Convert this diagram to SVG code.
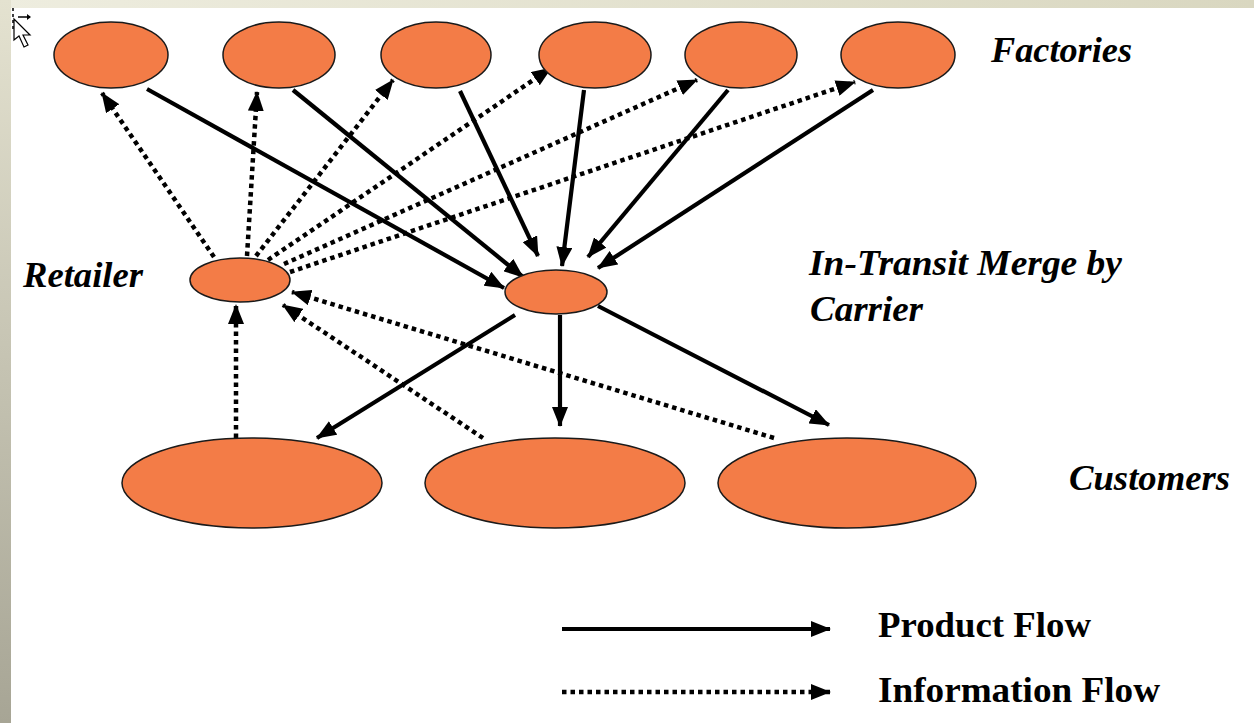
<svg xmlns="http://www.w3.org/2000/svg" width="1254" height="723" viewBox="0 0 1254 723">
<defs>
<linearGradient id="gLeft" x1="0" y1="0" x2="0" y2="1">
<stop offset="0" stop-color="#E4E2D0"/>
<stop offset="1" stop-color="#A7A595"/>
</linearGradient>
<linearGradient id="gTop" x1="0" y1="0" x2="1" y2="0">
<stop offset="0" stop-color="#EEEDDF"/>
<stop offset="1" stop-color="#D9D7C0"/>
</linearGradient>
<marker id="arr" markerUnits="userSpaceOnUse" markerWidth="20" markerHeight="16" refX="19" refY="8" orient="auto">
<path d="M0,0 L20,8 L0,16 Z" fill="#000"/>
</marker>
</defs>
<style>
.node{fill:#F37C47;stroke:#1a1a1a;stroke-width:1.5}
.prod{stroke:#000;stroke-width:4.2;fill:none;marker-end:url(#arr)}
.info{stroke:#000;stroke-width:4.5;stroke-dasharray:4.5 4;fill:none;marker-end:url(#arr)}
.lbl{font-family:"Liberation Serif","Times New Roman",serif;font-size:36px;font-weight:bold;font-style:italic;fill:#000}
.leg{font-family:"Liberation Serif","Times New Roman",serif;font-size:36px;font-weight:bold;fill:#000}
</style>
<rect x="0" y="0" width="1254" height="723" fill="#FFFFFF"/>
<rect x="0" y="0" width="1254" height="8" fill="url(#gTop)"/>
<rect x="0" y="0" width="11" height="723" fill="url(#gLeft)"/>
<g id="cursor">
<line x1="13" y1="8" x2="13" y2="30" stroke="#000" stroke-width="1.5" stroke-dasharray="3 3"/>
<line x1="18" y1="17" x2="30" y2="17" stroke="#000" stroke-width="1.5"/>
<path d="M27,14 L31,17 L27,20 Z" fill="#000"/>
<path d="M14,19 L14,40 L19,36 L24,47 L28,45 L23,35 L30,35 Z" fill="#fff" stroke="#000" stroke-width="1.2"/>
</g>
<g id="connectors">
<line class="prod" x1="147" y1="89" x2="504" y2="288"/>
<line class="prod" x1="293" y1="90" x2="523" y2="277"/>
<line class="prod" x1="460" y1="91" x2="538" y2="256"/>
<line class="prod" x1="584" y1="90" x2="562" y2="266"/>
<line class="prod" x1="728" y1="90" x2="588" y2="257"/>
<line class="prod" x1="873" y1="90" x2="598" y2="268"/>
<line class="prod" x1="515" y1="315" x2="317" y2="438"/>
<line class="prod" x1="560" y1="315" x2="560" y2="426"/>
<line class="prod" x1="598" y1="306" x2="829" y2="425"/>
<line class="info" x1="214" y1="257" x2="102" y2="93"/>
<line class="info" x1="247" y1="256" x2="257" y2="92"/>
<line class="info" x1="256" y1="256" x2="393" y2="80"/>
<line class="info" x1="268" y1="260" x2="551" y2="68"/>
<line class="info" x1="284" y1="264" x2="697" y2="80"/>
<line class="info" x1="290" y1="272" x2="855" y2="82"/>
<line class="info" x1="236" y1="438" x2="236" y2="305"/>
<line class="info" x1="483" y1="438" x2="283" y2="305"/>
<line class="info" x1="774" y1="438" x2="292" y2="292"/>
<line class="prod" x1="562" y1="629" x2="830" y2="629"/>
<line class="info" x1="562" y1="692" x2="830" y2="692"/>
</g>
<g id="factory1"><ellipse class="node" cx="111" cy="55" rx="57" ry="33"/></g>
<g id="factory2"><ellipse class="node" cx="279" cy="55" rx="56" ry="33"/></g>
<g id="factory3"><ellipse class="node" cx="436" cy="55" rx="55" ry="33"/></g>
<g id="factory4"><ellipse class="node" cx="595" cy="55" rx="56" ry="33"/></g>
<g id="factory5"><ellipse class="node" cx="741" cy="55" rx="56" ry="33"/></g>
<g id="factory6"><ellipse class="node" cx="898" cy="55" rx="57" ry="33"/></g>
<g id="retailer"><ellipse class="node" cx="240" cy="280" rx="50" ry="22"/></g>
<g id="merge"><ellipse class="node" cx="556" cy="292" rx="51" ry="22"/></g>
<g id="customer1"><ellipse class="node" cx="252" cy="483" rx="130" ry="45"/></g>
<g id="customer2"><ellipse class="node" cx="555" cy="483" rx="130" ry="45"/></g>
<g id="customer3"><ellipse class="node" cx="847" cy="483" rx="129" ry="45"/></g>
<g id="labels">
<text class="lbl" x="991" y="62" textLength="141" lengthAdjust="spacingAndGlyphs">Factories</text>
<text class="lbl" x="23" y="287" textLength="120" lengthAdjust="spacingAndGlyphs">Retailer</text>
<text class="lbl" x="809" y="275" textLength="313" lengthAdjust="spacingAndGlyphs">In-Transit Merge by</text>
<text class="lbl" x="810" y="321" textLength="113" lengthAdjust="spacingAndGlyphs">Carrier</text>
<text class="lbl" x="1069" y="490" textLength="161" lengthAdjust="spacingAndGlyphs">Customers</text>
<text class="leg" x="878" y="637" textLength="213" lengthAdjust="spacingAndGlyphs">Product Flow</text>
<text class="leg" x="878" y="702" textLength="282" lengthAdjust="spacingAndGlyphs">Information Flow</text>
</g>
</svg>
